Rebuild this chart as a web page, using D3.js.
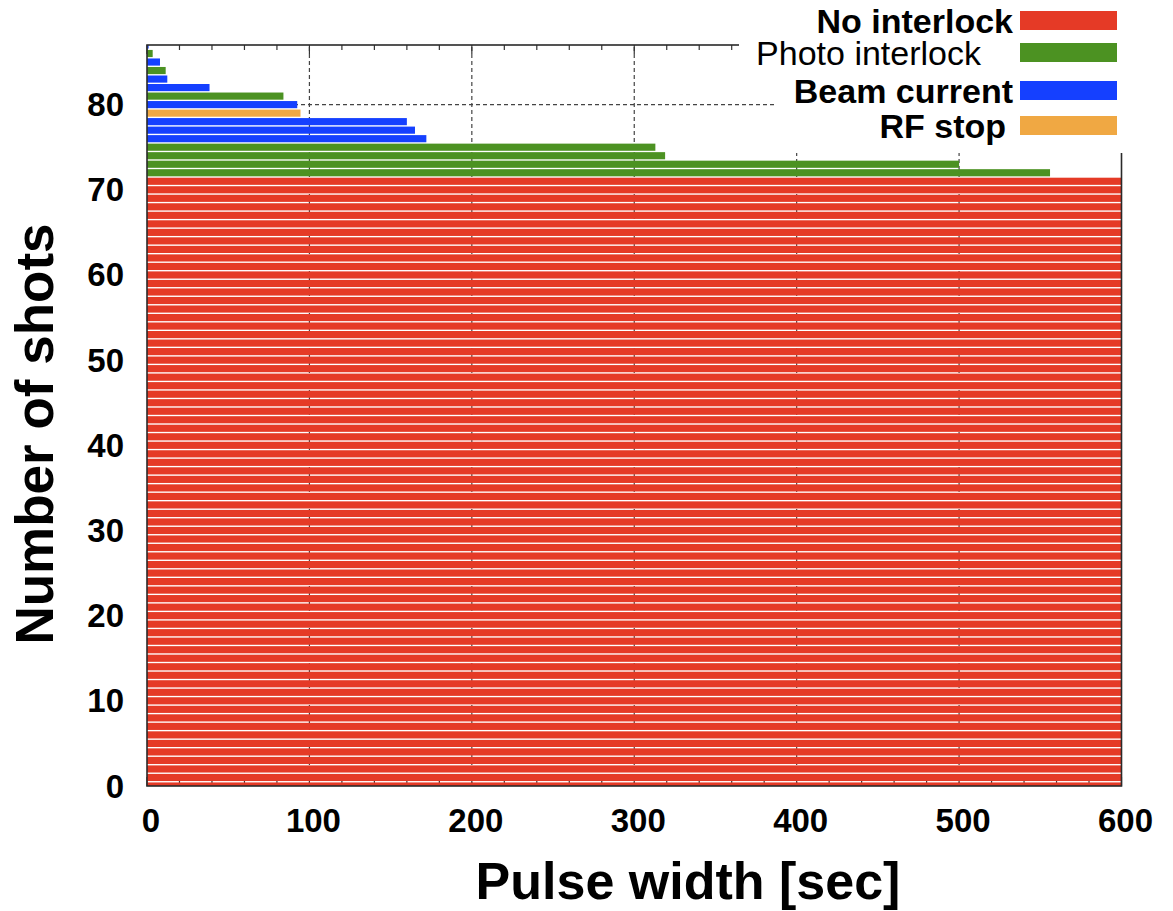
<!DOCTYPE html>
<html>
<head>
<meta charset="utf-8">
<script src="https://cdn.jsdelivr.net/npm/d3@7"></script>
<style>
  body { margin: 0; background: #fff; }
  svg { display: block; font-family: "Liberation Sans", Arial, sans-serif; }
</style>
</head>
<body>
<div id="chart"></div>
<script>
// interlock categories and their colours
const categories = ["No interlock", "Photo interlock", "Beam current", "RF stop"];
const categoryColors = ["#e53a26", "#4c9222", "#1540ff", "#f0a843"];

// shots without interlock all ran the full 600 s (shot 0 .. 71)
const noInterlockWidths = [
  600, 600, 600, 600, 600, 600, 600, 600, 600, 600, 600, 600,
  600, 600, 600, 600, 600, 600, 600, 600, 600, 600, 600, 600,
  600, 600, 600, 600, 600, 600, 600, 600, 600, 600, 600, 600,
  600, 600, 600, 600, 600, 600, 600, 600, 600, 600, 600, 600,
  600, 600, 600, 600, 600, 600, 600, 600, 600, 600, 600, 600,
  600, 600, 600, 600, 600, 600, 600, 600, 600, 600, 600, 600
];

// interrupted shots, shot 72 .. 87 (sorted by pulse width)
const stoppedTypes = [
  "Photo interlock", "Photo interlock", "Photo interlock", "Photo interlock",
  "Beam current", "Beam current", "Beam current", "RF stop",
  "Beam current", "Photo interlock", "Beam current", "Beam current",
  "Photo interlock", "Beam current", "Photo interlock", "Beam current"
];
const stoppedWidths = [556, 500, 319, 313, 172, 165, 160, 94.5, 92.5, 84, 38.5, 12.5, 11.5, 8, 3.5, 1];

// axis ticks
const xTicks = [0, 100, 200, 300, 400, 500, 600];
const yTicks = [0, 10, 20, 30, 40, 50, 60, 70, 80];

class ShotChart {

    constructor(_config) {
        this.config = {
            parentElement: _config.parentElement,
            width: _config.width,
            height: _config.height,
            margin: _config.margin,
            data: _config.data
        }
        this.initVis();
    }

    initVis() {
        let vis = this;
        const m = vis.config.margin;

        vis.svg = d3.select(vis.config.parentElement).append("svg")
            .attr("width", vis.config.width)
            .attr("height", vis.config.height);

        vis.x = d3.scaleLinear()
            .domain([0, 600])
            .range([m.left, vis.config.width - m.right]);
        vis.y = d3.scaleLinear()
            .domain([0, 87])
            .range([vis.config.height - m.bottom, m.top]);
        vis.color = d3.scaleOrdinal().domain(categories).range(categoryColors);

        vis.svg.append("clipPath").attr("id", "plot-clip")
            .append("rect")
            .attr("x", vis.x(0)).attr("y", vis.y(87))
            .attr("width", vis.x(600) - vis.x(0))
            .attr("height", vis.y(0) - vis.y(87));

        vis.renderVis();
    }

    renderVis() {
        let vis = this;
        const x = vis.x, y = vis.y;
        const x0 = x(0), x1 = x(600), y0 = y(0), y1 = y(87);

        /**
         * Grid (behind the bars)
         */
        const grid = vis.svg.append("g")
            .attr("stroke", "#444")
            .attr("stroke-width", 1.2)
            .attr("stroke-dasharray", "4,3");
        grid.selectAll(".vgrid")
            .data(xTicks.slice(1, -1))
            .join("line")
            .attr("x1", d => x(d)).attr("x2", d => x(d))
            .attr("y1", y0).attr("y2", y1);
        grid.selectAll(".hgrid")
            .data(yTicks.slice(1))
            .join("line")
            .attr("x1", x0).attr("x2", x1)
            .attr("y1", d => y(d)).attr("y2", d => y(d));

        // inward ticks on bottom and top
        const minor = d3.range(0, 601, 20).filter(d => d % 100 !== 0);
        const ticks = vis.svg.append("g").attr("stroke", "#333").attr("stroke-width", 1.2);
        [[y0, -1], [y1, 1]].forEach(([yy, dir]) => {
            ticks.append("g").selectAll("line")
                .data(minor)
                .join("line")
                .attr("x1", d => x(d)).attr("x2", d => x(d))
                .attr("y1", yy).attr("y2", yy + dir * 5);
            ticks.append("g").selectAll("line")
                .data(xTicks)
                .join("line")
                .attr("x1", d => x(d)).attr("x2", d => x(d))
                .attr("y1", yy).attr("y2", yy + dir * 9);
        });

        /**
         * Bars
         */
        const half = 0.42;
        vis.svg.append("g")
            .attr("clip-path", "url(#plot-clip)")
            .selectAll("rect")
            .data(vis.config.data)
            .join("rect")
            .attr("x", x0)
            .attr("y", d => y(d.shot + half))
            .attr("width", d => x(d.width) - x0)
            .attr("height", d => y(d.shot - half) - y(d.shot + half))
            .attr("fill", d => vis.color(d.type));

        /**
         * Frame
         */
        vis.svg.append("rect")
            .attr("x", x0).attr("y", y1)
            .attr("width", x1 - x0).attr("height", y0 - y1)
            .attr("fill", "none")
            .attr("stroke", "#2a2a2a")
            .attr("stroke-width", 1.6);

        /**
         * Tick labels and titles
         */
        vis.svg.append("g").selectAll("text")
            .data(xTicks)
            .join("text")
            .attr("x", d => x(d) + 4)
            .attr("y", 832)
            .attr("text-anchor", "middle")
            .attr("font-size", 33)
            .attr("font-weight", "700")
            .text(d => d);

        vis.svg.append("g").selectAll("text")
            .data(yTicks)
            .join("text")
            .attr("x", 124)
            .attr("y", d => y(d) + 11.5)
            .attr("text-anchor", "end")
            .attr("font-size", 33)
            .attr("font-weight", "700")
            .text(d => d);

        vis.svg.append("text")
            .attr("x", 688)
            .attr("y", 899)
            .attr("text-anchor", "middle")
            .attr("font-size", 52)
            .attr("font-weight", "700")
            .text("Pulse width [sec]");

        vis.svg.append("text")
            .attr("transform", "translate(53,434) rotate(-90)")
            .attr("text-anchor", "middle")
            .attr("font-size", 53)
            .attr("font-weight", "700")
            .text("Number of shots");

        /**
         * Legend (opaque area over the top-right corner)
         */
        const legend = vis.svg.append("g");
        legend.append("rect").attr("x", 739).attr("y", 0).attr("width", 440).attr("height", 72).attr("fill", "#fff");
        legend.append("rect").attr("x", 777).attr("y", 72).attr("width", 400).attr("height", 81).attr("fill", "#fff");

        const rowY = [33, 65, 103, 138];
        const textEnd = [1013, 981, 1013, 1006];
        const rows = legend.selectAll(".row")
            .data(categories)
            .join("g");
        rows.append("text")
            .attr("x", (d, i) => textEnd[i])
            .attr("y", (d, i) => rowY[i])
            .attr("text-anchor", "end")
            .attr("font-size", 34)
            .attr("font-weight", d => d === "Photo interlock" ? "400" : "700")
            .text(d => d);
        rows.append("rect")
            .attr("x", 1020)
            .attr("y", (d, i) => rowY[i] - 22)
            .attr("width", 97)
            .attr("height", 19)
            .attr("fill", d => vis.color(d));
    }
}

// one record per shot
const shots = noInterlockWidths.map((w, i) => ({ shot: i, width: w, type: "No interlock" }))
    .concat(stoppedWidths.map((w, i) => ({
        shot: noInterlockWidths.length + i,
        width: w,
        type: stoppedTypes[i]
    })));

new ShotChart({
    parentElement: "#chart",
    width: 1173,
    height: 911,
    margin: { top: 45, right: 51.5, bottom: 125, left: 147 },
    data: shots
});
</script>
</body>
</html>
